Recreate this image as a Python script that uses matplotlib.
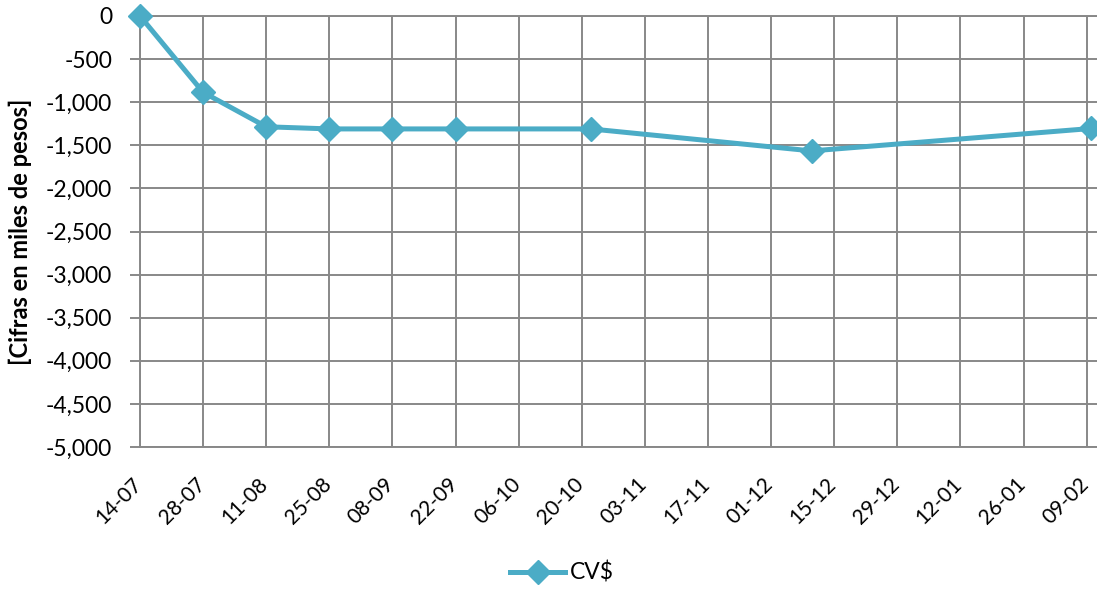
import matplotlib
matplotlib.use("Agg")
import matplotlib.pyplot as plt
import matplotlib.dates as mdates
import matplotlib.transforms as mtransforms
from matplotlib.ticker import FuncFormatter, MultipleLocator
import datetime as dt

plt.rcParams['font.family'] = ['Lato', 'DejaVu Sans']

dates = ["2014-07-14", "2014-07-28", "2014-08-11", "2014-08-25", "2014-09-08",
         "2014-09-22", "2014-10-22", "2014-12-10", "2015-02-10"]
values = [0, -885, -1285, -1310, -1310, -1310, -1310, -1565, -1305]
series_name = "CV$"
tick_start = "2014-07-14"
tick_count = 16
ylabel = "[Cifras en miles de pesos]"

x = [dt.datetime.strptime(d, "%Y-%m-%d") for d in dates]
t0 = dt.datetime.strptime(tick_start, "%Y-%m-%d")
ticks = [t0 + dt.timedelta(days=14 * i) for i in range(tick_count)]

color = "#4BACC6"
grid_c = "#888888"

fig = plt.figure(figsize=(10.97, 5.89), dpi=100)
ax = fig.add_axes([140 / 1097, 1 - 447 / 589, (1097 - 140) / 1097, (447 - 16) / 589])

ax.plot(x, values, color=color, lw=3.6, marker="D", ms=12, label=series_name,
        solid_joinstyle="round", clip_on=False, zorder=5)

ax.set_ylim(-5000, 0)
ax.yaxis.set_major_locator(MultipleLocator(500))
ax.yaxis.set_major_formatter(FuncFormatter(lambda v, p: f"{int(v):,}"))
ax.set_xlim(mdates.date2num(t0), mdates.date2num(ticks[-1]) + 2.3)
ax.set_xticks(ticks)
ax.set_xticklabels([t.strftime("%d-%m") for t in ticks], rotation=45,
                   ha="right", va="baseline", rotation_mode="anchor")
ax.tick_params(axis="x", length=0, labelsize=15, pad=0)
shift = mtransforms.ScaledTranslation(3 / 100, -38 / 100, fig.dpi_scale_trans)
for lbl in ax.get_xticklabels():
    lbl.set_transform(lbl.get_transform() + shift)

ax.grid(True, color=grid_c, lw=1.4)
ax.set_axisbelow(True)
for s in ax.spines.values():
    s.set_color(grid_c)
    s.set_linewidth(1.4)
ax.spines["right"].set_visible(False)
ax.tick_params(axis="y", length=7, width=1.4, color=grid_c, labelsize=16.5, pad=13)

ax.set_ylabel(ylabel, fontsize=17, fontweight="bold")
ax.yaxis.set_label_coords((32 - 140) / 957, 0.5)

leg = fig.legend(loc="center", bbox_to_anchor=(562 / 1097, 1 - 573 / 589),
                 frameon=False, fontsize=16.5, handlelength=2.4, handletextpad=0.2)

fig.savefig("out.png", dpi=100)
